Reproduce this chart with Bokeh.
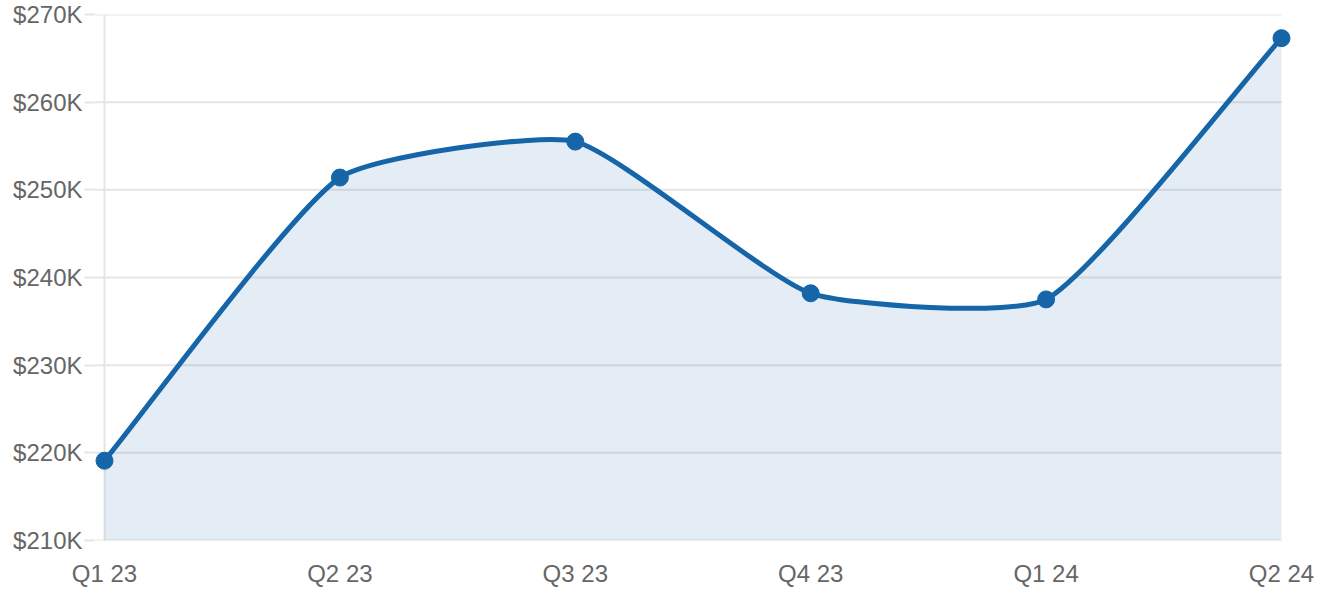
import numpy as np
from bokeh.plotting import figure
from bokeh.models import Range1d, FixedTicker, ColumnDataSource
from bokeh.embed import file_html
from bokeh.resources import INLINE

# ---- data ----
quarters = ["Q1 23", "Q2 23", "Q3 23", "Q4 23", "Q1 24", "Q2 24"]
values = [219100, 251400, 255500, 238200, 237500, 267300]
y_ticks = [210000, 220000, 230000, 240000, 250000, 260000, 270000]
y_tick_labels = ["$210K", "$220K", "$230K", "$240K", "$250K", "$260K", "$270K"]

LINE = "#1565a8"
TEXT = "#666666"
GRID = "#e5e5e5"
FONT = "Liberation Sans"

STEP_PX = 235.4          # pixel distance between categories
PAD_PX = 10              # room so the end markers are not clipped
Y0, Y1 = 210000, 270000
FRAME_H = 526
n = len(values)
FRAME_W = int(round(STEP_PX * (n - 1) + 2 * PAD_PX))
pad = PAD_PX / STEP_PX

xs = np.arange(n, dtype=float)
ys = np.array(values, dtype=float)

# spline control points (computed in screen space, Chart.js style)
sx = STEP_PX
sy = FRAME_H / (Y1 - Y0)
px, py = xs * sx, ys * sy
tension = 0.17
c_prev = np.zeros((n, 2))
c_next = np.zeros((n, 2))
for i in range(n):
    a, b, c = max(i - 1, 0), i, min(i + 1, n - 1)
    d01 = np.hypot(px[b] - px[a], py[b] - py[a])
    d12 = np.hypot(px[c] - px[b], py[c] - py[b])
    tot = d01 + d12
    s01 = d01 / tot if tot else 0
    s12 = d12 / tot if tot else 0
    fa, fb = tension * s01, tension * s12
    c_prev[i] = (px[b] - fa * (px[c] - px[a]), py[b] - fa * (py[c] - py[a]))
    c_next[i] = (px[b] + fb * (px[c] - px[a]), py[b] + fb * (py[c] - py[a]))
c_prev[:, 0] /= sx; c_prev[:, 1] /= sy
c_next[:, 0] /= sx; c_next[:, 1] /= sy

seg = ColumnDataSource(dict(
    x0=xs[:-1], y0=ys[:-1], x1=xs[1:], y1=ys[1:],
    cx0=c_next[:-1, 0], cy0=c_next[:-1, 1],
    cx1=c_prev[1:, 0], cy1=c_prev[1:, 1],
))

# outline of the smoothed curve for the area fill
t = np.linspace(0, 1, 60)
fx, fy = [], []
for i in range(n - 1):
    P0 = np.array([xs[i], ys[i]]); P1 = c_next[i]; P2 = c_prev[i + 1]; P3 = np.array([xs[i + 1], ys[i + 1]])
    bz = ((1 - t) ** 3)[:, None] * P0 + (3 * (1 - t) ** 2 * t)[:, None] * P1 + \
         (3 * (1 - t) * t ** 2)[:, None] * P2 + (t ** 3)[:, None] * P3
    fx.extend(bz[:, 0]); fy.extend(bz[:, 1])
fx = np.array(fx); fy = np.array(fy)

p = figure(
    frame_width=FRAME_W, frame_height=FRAME_H,
    x_range=Range1d(-pad, n - 1 + pad), y_range=Range1d(Y0, Y1),
    output_backend="svg", toolbar_location=None,
    min_border_left=94, min_border_right=26, min_border_top=14, min_border_bottom=10,
)
p.outline_line_color = None
p.background_fill_color = "white"
p.border_fill_color = "white"
p.xgrid.visible = False
p.ygrid.visible = False

# horizontal grid lines (from the axis edge to the last category) and vertical axis line
p.segment(x0=[-pad] * len(y_ticks), y0=y_ticks, x1=[n - 1] * len(y_ticks), y1=y_ticks,
          line_color=GRID, line_width=2)
p.segment(x0=[0], y0=[Y0], x1=[0], y1=[Y1], line_color=GRID, line_width=2)

p.varea(x=fx, y1=Y0, y2=fy, fill_color=LINE, fill_alpha=0.115)
p.bezier(x0="x0", y0="y0", x1="x1", y1="y1", cx0="cx0", cy0="cy0", cx1="cx1", cy1="cy1",
         source=seg, line_color=LINE, line_width=5)
p.scatter(xs, ys, size=17, fill_color=LINE, line_color=LINE)

# y axis
p.yaxis.ticker = FixedTicker(ticks=y_ticks)
p.yaxis.major_label_overrides = {v: l for v, l in zip(y_ticks, y_tick_labels)}
p.yaxis.major_tick_out = PAD_PX
p.yaxis.major_tick_in = 0
p.yaxis.minor_tick_out = 0
p.yaxis.minor_tick_in = 0
p.yaxis.major_tick_line_color = GRID
p.yaxis.major_tick_line_width = 2
p.yaxis.axis_line_color = None
p.yaxis.major_label_standoff = 2
p.yaxis.major_label_text_font = FONT
p.yaxis.major_label_text_font_size = "24px"
p.yaxis.major_label_text_color = TEXT

# x axis
p.xaxis.ticker = FixedTicker(ticks=list(range(n)))
p.xaxis.major_label_overrides = {i: q for i, q in enumerate(quarters)}
p.xaxis.major_tick_out = 0
p.xaxis.major_tick_in = 0
p.xaxis.minor_tick_out = 0
p.xaxis.minor_tick_in = 0
p.xaxis.axis_line_color = None
p.xaxis.major_label_standoff = 19
p.xaxis.major_label_text_font = FONT
p.xaxis.major_label_text_font_size = "24px"
p.xaxis.major_label_text_color = TEXT

open("out.html", "w").write(file_html(p, INLINE))
